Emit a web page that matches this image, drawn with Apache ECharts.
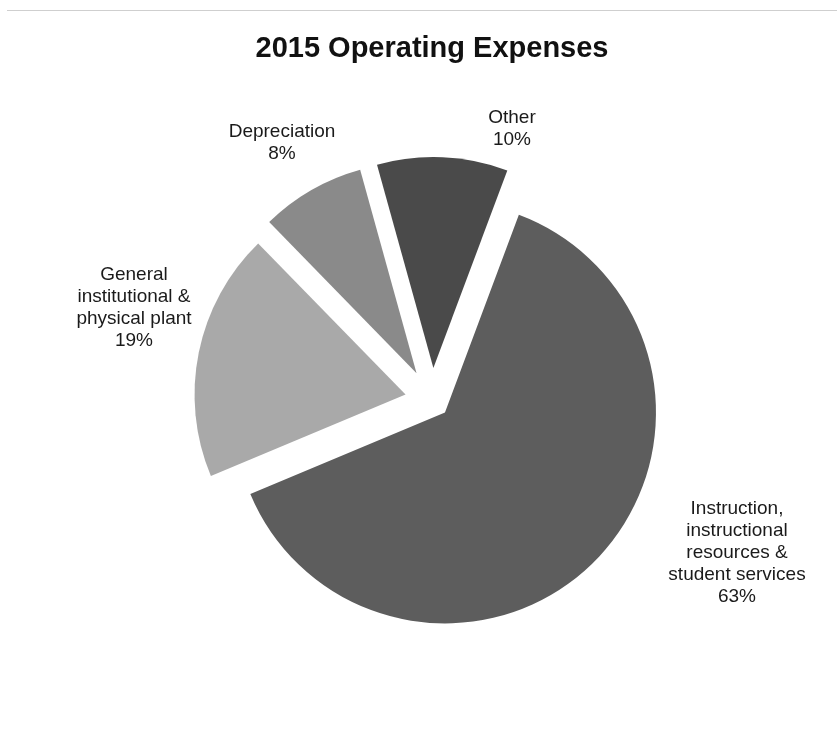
<!DOCTYPE html>
<html>
<head>
<meta charset="utf-8">
<title>2015 Operating Expenses</title>
<script src="https://cdn.jsdelivr.net/npm/echarts@6/dist/echarts.min.js"></script>
<style>
  html, body { margin: 0; padding: 0; background: #ffffff; }
  #chart { width: 837px; height: 729px; }
</style>
</head>
<body>
<div id="chart"></div>
<script>
// Expense categories, in drawing order (clockwise from the first slice)
const categories = [
  'Instruction,\ninstructional\nresources &\nstudent services',
  'General\ninstitutional &\nphysical plant',
  'Depreciation',
  'Other'
];
// Share of operating expenses, percent
const shares = [63, 19, 8, 10];

// Styling
const sliceColors = ['#5d5d5d', '#a9a9a9', '#8a8a8a', '#4a4a4a'];
const explodeBy = [18, 27, 31, 32];          // pull-out distance of each slice, px
const labelPos = [[737, 553], [134, 308], [282, 143], [512, 129]];
const FONT = '"Liberation Sans", Arial, Helvetica, sans-serif';
const PIE_CENTER = [432, 400];
const PIE_RADIUS = 211;

const chart = echarts.init(document.getElementById('chart'), null, { renderer: 'canvas' });

const total = shares.reduce((a, b) => a + b, 0);

// One pie layer per slice so every slice can be pulled out by its own distance;
// each layer lays out the full data set and shows only its own slice.
const series = categories.map((_, k) => ({
  type: 'pie',
  center: PIE_CENTER,
  radius: PIE_RADIUS,
  startAngle: 69.5,
  clockwise: true,
  animation: false,
  selectedMode: 'multiple',
  selectedOffset: explodeBy[k],
  silent: true,
  emphasis: { disabled: true },
  select: { itemStyle: { borderWidth: 0 } },
  label: { show: false },
  labelLine: { show: false },
  data: categories.map((name, i) => ({
    name: name,
    value: shares[i],
    selected: i === k,
    itemStyle: {
      color: i === k ? sliceColors[i] : 'rgba(0,0,0,0)',
      borderWidth: 0
    }
  }))
}));

// Category labels with their share of the total
const labels = categories.map((name, i) => ({
  type: 'text',
  silent: true,
  x: labelPos[i][0],
  y: labelPos[i][1],
  style: {
    text: name + '\n' + Math.round(shares[i] / total * 100) + '%',
    fontFamily: FONT,
    fontSize: 19,
    lineHeight: 22,
    fill: '#1a1a1a',
    align: 'center',
    verticalAlign: 'middle'
  }
}));

chart.setOption({
  backgroundColor: '#ffffff',
  title: {
    text: '2015 Operating Expenses',
    left: 427,
    top: 29,
    textAlign: 'center',
    textStyle: {
      fontFamily: FONT,
      fontSize: 29,
      fontWeight: 'bold',
      color: '#111111'
    }
  },
  graphic: [{
    type: 'line',
    shape: { x1: 7, y1: 10.5, x2: 837, y2: 10.5 },
    style: { stroke: '#cfcfcf', lineWidth: 1 },
    silent: true
  }].concat(labels),
  series: series
});
</script>
</body>
</html>
